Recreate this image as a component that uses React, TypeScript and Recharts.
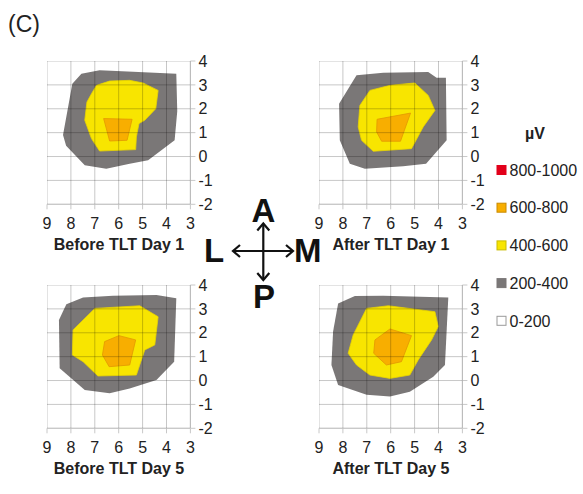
import React from 'react';
import { ComposedChart, Scatter, XAxis, YAxis } from 'recharts';

type Pt = { x: number; y: number };

const xTicks = [9, 8, 7, 6, 5, 4, 3];
const yTicks = [-2, -1, 0, 1, 2, 3, 4];

const bands = ['800-1000', '600-800', '400-600', '200-400', '0-200'];
const bandColors = ['#e2001a', '#f8ae00', '#f8e500', '#7a7777', '#ffffff'];
const bandBorders = ['#e2001a', '#c98a00', '#c9bb00', '#7a7777', '#9a9a9a'];

// before TLT day 1
const beforeDay1Gray: Pt[] = [
  { x: 7.56, y: 3.47 }, { x: 6.8, y: 3.61 }, { x: 5.4, y: 3.55 }, { x: 3.59, y: 3.47 },
  { x: 3.55, y: 1.9 }, { x: 3.66, y: 0.68 }, { x: 4.77, y: -0.16 }, { x: 5.54, y: -0.3 },
  { x: 6.52, y: -0.51 }, { x: 7.42, y: -0.37 }, { x: 8.2, y: 0.45 }, { x: 8.33, y: 0.9 },
  { x: 7.94, y: 3.05 },
];
const beforeDay1Yellow: Pt[] = [
  { x: 6.93, y: 2.98 }, { x: 6.38, y: 3.16 }, { x: 5.54, y: 3.19 }, { x: 4.98, y: 3.08 },
  { x: 4.35, y: 2.77 }, { x: 4.45, y: 2.0 }, { x: 4.91, y: 1.52 }, { x: 5.15, y: 1.38 },
  { x: 5.26, y: 0.82 }, { x: 5.29, y: 0.29 }, { x: 6.8, y: 0.23 }, { x: 7.14, y: 0.75 },
  { x: 7.42, y: 1.52 }, { x: 7.33, y: 2.28 }, { x: 7.14, y: 2.63 },
];
const beforeDay1Orange: Pt[] = [
  { x: 6.63, y: 1.59 }, { x: 5.44, y: 1.56 }, { x: 5.65, y: 0.68 }, { x: 6.38, y: 0.65 },
];

// after TLT day 1
const afterDay1Gray: Pt[] = [
  { x: 7.43, y: 3.4 }, { x: 6.31, y: 3.51 }, { x: 4.43, y: 3.54 }, { x: 4.08, y: 3.3 },
  { x: 3.69, y: 3.3 }, { x: 3.66, y: 0.68 }, { x: 4.52, y: -0.3 }, { x: 5.48, y: -0.41 },
  { x: 7.08, y: -0.51 }, { x: 7.71, y: -0.3 }, { x: 8.13, y: 0.68 }, { x: 8.16, y: 2.21 },
];
const afterDay1Yellow: Pt[] = [
  { x: 6.87, y: 2.77 }, { x: 6.03, y: 2.98 }, { x: 4.99, y: 3.08 }, { x: 4.43, y: 2.56 },
  { x: 4.15, y: 1.93 }, { x: 4.64, y: 1.24 }, { x: 5.13, y: 0.33 }, { x: 6.73, y: 0.22 },
  { x: 7.22, y: 0.68 }, { x: 7.36, y: 1.24 }, { x: 7.29, y: 2.14 },
];
const afterDay1Orange: Pt[] = [
  { x: 6.57, y: 1.56 }, { x: 5.17, y: 1.82 }, { x: 5.59, y: 0.64 }, { x: 6.38, y: 0.64 },
  { x: 6.59, y: 1.03 },
];

// before TLT day 5
const beforeDay5Gray: Pt[] = [
  { x: 8.19, y: 3.19 }, { x: 7.49, y: 3.48 }, { x: 6.24, y: 3.55 }, { x: 4.42, y: 3.58 },
  { x: 3.59, y: 3.44 }, { x: 3.68, y: 0.79 }, { x: 4.42, y: 0.02 }, { x: 5.54, y: -0.33 },
  { x: 6.38, y: -0.53 }, { x: 7.42, y: -0.4 }, { x: 8.47, y: 0.51 }, { x: 8.5, y: 2.53 },
];
const beforeDay5Yellow: Pt[] = [
  { x: 7.91, y: 2.12 }, { x: 7.0, y: 3.02 }, { x: 5.12, y: 3.13 }, { x: 4.35, y: 2.67 },
  { x: 4.49, y: 1.49 }, { x: 4.91, y: 1.28 }, { x: 5.26, y: 0.23 }, { x: 6.87, y: 0.19 },
  { x: 7.49, y: 0.79 }, { x: 7.94, y: 1.07 },
];
const beforeDay5Orange: Pt[] = [
  { x: 5.99, y: 1.88 }, { x: 5.29, y: 1.7 }, { x: 5.54, y: 0.65 }, { x: 6.4, y: 0.58 },
  { x: 6.68, y: 1.07 }, { x: 6.59, y: 1.63 },
];

// after TLT day 5
const afterDay5Gray: Pt[] = [
  { x: 8.2, y: 3.23 }, { x: 7.5, y: 3.54 }, { x: 6.31, y: 3.55 }, { x: 3.59, y: 3.48 },
  { x: 3.73, y: 0.65 }, { x: 4.22, y: 0.16 }, { x: 5.2, y: -0.47 }, { x: 6.03, y: -0.67 },
  { x: 7.01, y: -0.6 }, { x: 8.2, y: -0.19 }, { x: 8.48, y: 0.65 }, { x: 8.41, y: 2.05 },
];
const afterDay5Yellow: Pt[] = [
  { x: 7.01, y: 3.02 }, { x: 6.1, y: 3.13 }, { x: 4.15, y: 2.88 }, { x: 4.01, y: 2.26 },
  { x: 4.29, y: 1.7 }, { x: 4.85, y: 0.86 }, { x: 5.2, y: 0.23 }, { x: 6.03, y: 0.09 },
  { x: 6.87, y: 0.23 }, { x: 7.43, y: 0.65 }, { x: 7.78, y: 1.14 }, { x: 7.57, y: 1.91 },
];
const afterDay5Orange: Pt[] = [
  { x: 6.03, y: 2.16 }, { x: 5.13, y: 1.88 }, { x: 5.55, y: 0.79 }, { x: 6.18, y: 0.65 },
  { x: 6.71, y: 1.14 }, { x: 6.66, y: 1.7 },
];

const FONT = '"Liberation Sans", Arial, sans-serif';
const PLOT_W = 143.4;
const PLOT_H = 143.3;
const CHART_W = 220;
const CHART_H = 200;
const PAD = 20;
const Y_AXIS_W = 40;
const X_AXIS_H = 30;

const noDot = () => <g />;

const polygon = (fill: string, stroke: string) => (props: any) => {
  const pts = (props.points || []).map((p: any) => `${p.x},${p.y}`).join(' ');
  return <polygon points={pts} fill={fill} stroke={stroke} strokeWidth={0.8} />;
};

// grid sits above the contour fills, like the Excel original
const gridLine = (props: any) => {
  const pts = (props.points || []).map((p: any) => `${p.x},${p.y}`).join(' ');
  return <polyline points={pts} fill="none" stroke="#000" strokeOpacity={0.22} strokeWidth={1} />;
};

const xMin = xTicks[xTicks.length - 1];
const xMax = xTicks[0];
const yMin = yTicks[0];
const yMax = yTicks[yTicks.length - 1];
const verticalGrid = xTicks.map((x) => [{ x, y: yMin }, { x, y: yMax }]);
const horizontalGrid = yTicks.map((y) => [{ x: xMax, y }, { x: xMin, y }]);

interface PanelProps {
  left: number;
  top: number;
  title: string;
  gray: Pt[];
  yellow: Pt[];
  orange: Pt[];
}

const Panel: React.FC<PanelProps> = ({ left, top, title, gray, yellow, orange }) => (
  <>
    <div style={{ position: 'absolute', left: left - PAD, top: top - PAD }}>
      <ComposedChart
        width={CHART_W}
        height={CHART_H}
        margin={{
          top: PAD,
          left: PAD,
          right: CHART_W - PAD - PLOT_W - Y_AXIS_W,
          bottom: CHART_H - PAD - PLOT_H - X_AXIS_H,
        }}
      >
        <XAxis
          type="number"
          dataKey="x"
          domain={[3, 9]}
          ticks={xTicks}
          reversed
          allowDataOverflow
          height={X_AXIS_H}
          tickSize={5}
          tickMargin={8}
          stroke="#c8c8c8"
          tick={{ fill: '#222', fontSize: 16, fontFamily: FONT }}
        />
        <YAxis
          type="number"
          dataKey="y"
          orientation="right"
          domain={[-2, 4]}
          ticks={yTicks}
          allowDataOverflow
          width={Y_AXIS_W}
          tickSize={5}
          tickMargin={3}
          stroke="#c8c8c8"
          tick={{ fill: '#222', fontSize: 16, fontFamily: FONT }}
        />
        <Scatter data={gray} shape={noDot} line={polygon('#7a7777', 'none')} isAnimationActive={false} />
        <Scatter data={yellow} shape={noDot} line={polygon('#f8e500', '#e8d400')} isAnimationActive={false} />
        <Scatter data={orange} shape={noDot} line={polygon('#f8ae00', '#e29800')} isAnimationActive={false} />
        {verticalGrid.map((d, i) => (
          <Scatter key={`v${i}`} data={d} shape={noDot} line={gridLine} isAnimationActive={false} />
        ))}
        {horizontalGrid.map((d, i) => (
          <Scatter key={`h${i}`} data={d} shape={noDot} line={gridLine} isAnimationActive={false} />
        ))}
      </ComposedChart>
    </div>
    <div
      style={{
        position: 'absolute',
        left,
        width: PLOT_W,
        top: top + PLOT_H + 32.5,
        textAlign: 'center',
        fontFamily: FONT,
        fontWeight: 'bold',
        fontSize: 16,
        lineHeight: '16px',
        color: '#222',
        whiteSpace: 'nowrap',
      }}
    >
      {title}
    </div>
  </>
);

const Overlay = () => (
  <svg width={583} height={494} style={{ position: 'absolute', left: 0, top: 0, pointerEvents: 'none' }}>
    <text x={8} y={32} fontFamily={FONT} fontSize={23} fill="#222">(C)</text>

    {/* orientation cross */}
    <g stroke="#111" strokeWidth={2.2} fill="none">
      <line x1={233} y1={251} x2={293} y2={251} />
      <line x1={263.3} y1={223.5} x2={263.3} y2={280} />
      <polyline points="240,245 233,251 240,257" />
      <polyline points="286,245 293,251 286,257" />
      <polyline points="257.3,230.5 263.3,223.5 269.3,230.5" />
      <polyline points="257.3,273 263.3,280 269.3,273" />
    </g>
    <g fontFamily={FONT} fontWeight="bold" fontSize={33} fill="#111">
      <text x={263.3} y={221.7} textAnchor="middle">A</text>
      <text x={204} y={261.7}>L</text>
      <text x={294} y={261.7}>M</text>
      <text x={264} y={308} textAnchor="middle">P</text>
    </g>

    {/* legend */}
    <text x={535} y={139} textAnchor="middle" fontFamily={FONT} fontWeight="bold" fontSize={16} fill="#222">µV</text>
    {bands.map((b, i) => {
      const cy = 170 + i * 37.7;
      return (
        <g key={b}>
          <rect x={497} y={cy - 4.5} width={9} height={9} fill={bandColors[i]} stroke={bandBorders[i]} strokeWidth={1} />
          <text x={509.5} y={cy + 5.7} fontFamily={FONT} fontSize={16} fill="#222">{b}</text>
        </g>
      );
    })}
  </svg>
);

export default function App() {
  return (
    <div style={{ position: 'absolute', left: 0, top: 0, width: 583, height: 494, background: '#fff', overflow: 'hidden' }}>
      <Panel left={47.3} top={60.7} title="Before TLT Day 1" gray={beforeDay1Gray} yellow={beforeDay1Yellow} orange={beforeDay1Orange} />
      <Panel left={319.3} top={60.7} title="After TLT Day 1" gray={afterDay1Gray} yellow={afterDay1Yellow} orange={afterDay1Orange} />
      <Panel left={47.3} top={285} title="Before TLT Day 5" gray={beforeDay5Gray} yellow={beforeDay5Yellow} orange={beforeDay5Orange} />
      <Panel left={319.3} top={285} title="After TLT Day 5" gray={afterDay5Gray} yellow={afterDay5Yellow} orange={afterDay5Orange} />
      <Overlay />
    </div>
  );
}
